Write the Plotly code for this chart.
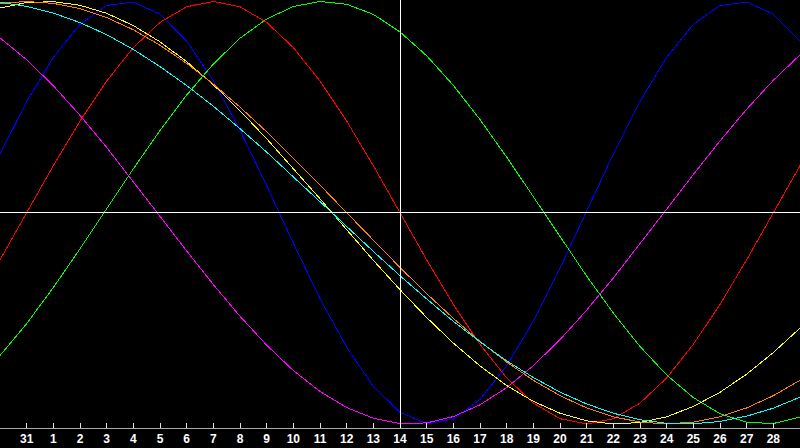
import plotly.graph_objects as go

# Etichette dei giorni: 30 gen (bordo sinistro) ... 1 mar (bordo destro)
DAY_LABELS = ["30", "31"] + [str(d) for d in range(1, 29)] + ["1"]
TODAY = "14"

# Valori, uno per giorno (da 30 gen a 1 mar)
physical = [0.278, 0.526, 0.736, 0.892, 0.981, 0.997, 0.940, 0.812, 0.625, 0.391,
            0.128, -0.144, -0.406, -0.637, -0.822, -0.945, -0.998, -0.977, -0.884, -0.725,
            -0.513, -0.262, 0.008, 0.278, 0.527, 0.736, 0.892, 0.981, 0.997, 0.940, 0.812]
emotional = [-0.223, 0.0, 0.223, 0.434, 0.623, 0.782, 0.901, 0.975, 1.0, 0.975,
             0.901, 0.782, 0.623, 0.434, 0.223, 0.0, -0.223, -0.434, -0.623, -0.782,
             -0.901, -0.975, -1.0, -0.975, -0.901, -0.782, -0.623, -0.434, -0.223, 0.0, 0.223]
intellectual = [-0.676, -0.525, -0.354, -0.171, 0.019, 0.208, 0.389, 0.557, 0.704, 0.826,
                0.917, 0.976, 1.0, 0.987, 0.939, 0.856, 0.743, 0.603, 0.441, 0.263,
                0.076, -0.114, -0.300, -0.475, -0.633, -0.768, -0.875, -0.951, -0.992, -0.998, -0.967]
intuitive = [0.828, 0.724, 0.601, 0.461, 0.309, 0.148, -0.017, -0.181, -0.340, -0.490,
             -0.627, -0.747, -0.846, -0.922, -0.973, -0.998, -0.995, -0.965, -0.909, -0.828,
             -0.724, -0.601, -0.461, -0.309, -0.148, 0.017, 0.181, 0.340, 0.490, 0.627, 0.747]
aesthetic = [0.969, 0.995, 0.999, 0.982, 0.944, 0.886, 0.809, 0.715, 0.606, 0.483,
             0.350, 0.210, 0.066, -0.080, -0.225, -0.364, -0.496, -0.617, -0.725, -0.818,
             -0.893, -0.949, -0.985, -1.0, -0.993, -0.966, -0.917, -0.850, -0.764, -0.662, -0.546]
awareness = [0.991, 1.0, 0.991, 0.966, 0.924, 0.866, 0.793, 0.707, 0.609, 0.500,
             0.383, 0.259, 0.131, 0.0, -0.131, -0.259, -0.383, -0.500, -0.609, -0.707,
             -0.793, -0.866, -0.924, -0.966, -0.991, -1.0, -0.991, -0.966, -0.924, -0.866, -0.793]
spiritual = [0.996, 0.977, 0.945, 0.900, 0.843, 0.773, 0.692, 0.602, 0.504, 0.398,
             0.287, 0.171, 0.053, -0.065, -0.183, -0.298, -0.408, -0.514, -0.611, -0.701,
             -0.780, -0.849, -0.905, -0.949, -0.980, -0.997, -0.999, -0.988, -0.963, -0.925, -0.873]

series = [
    ("Fisico", physical, "#0000ff"),
    ("Emotivo", emotional, "#ff0000"),
    ("Intellettuale", intellectual, "#00ff00"),
    ("Intuitivo", intuitive, "#ff00ff"),
    ("Estetico", aesthetic, "#ffff00"),
    ("Consapevolezza", awareness, "#ff8000"),
    ("Spirituale", spiritual, "#00ffff"),
]

x = list(range(len(DAY_LABELS)))
today_x = DAY_LABELS.index(TODAY, 2)

fig = go.Figure()
for name, vals, color in series:
    fig.add_trace(go.Scatter(x=x, y=vals, mode="lines", name=name,
                             line=dict(color=color, width=1)))

# linee bianche: zero e giorno corrente
fig.add_shape(type="line", xref="x", yref="paper", x0=today_x, x1=today_x, y0=0, y1=1,
              line=dict(color="white", width=1))
fig.add_shape(type="line", xref="paper", yref="y", x0=0, x1=1, y0=0, y1=0,
              line=dict(color="white", width=1))

fig.update_layout(
    width=800, height=448,
    margin=dict(l=0, r=0, t=0, b=20),
    paper_bgcolor="black", plot_bgcolor="black",
    showlegend=False,
)
fig.update_xaxes(
    range=[0, len(DAY_LABELS) - 1],
    tickvals=x[1:-1], ticktext=DAY_LABELS[1:-1],
    ticks="inside", ticklen=5, tickcolor="#e0e0e0",
    tickfont=dict(family="Liberation Sans", size=12, color="white", weight="bold"),
    ticklabelstandoff=0,
    showgrid=False, zeroline=False,
    showline=True, linecolor="#a8a8a8", linewidth=1, mirror=True,
)
fig.update_yaxes(
    range=[-1.019, 1.007],
    showticklabels=False, showgrid=False, zeroline=False,
    showline=True, linecolor="#a8a8a8", linewidth=1,
)

# niente margine della pagina, linee nette senza antialiasing
js = ("document.body.style.margin='0';document.body.style.overflow='hidden';"
      "document.head.insertAdjacentHTML('beforeend',"
      "'<style>.js-plotly-plot path{shape-rendering:crispEdges}</style>');")
fig.write_html("out.html", config={"displayModeBar": False}, post_script=js)
